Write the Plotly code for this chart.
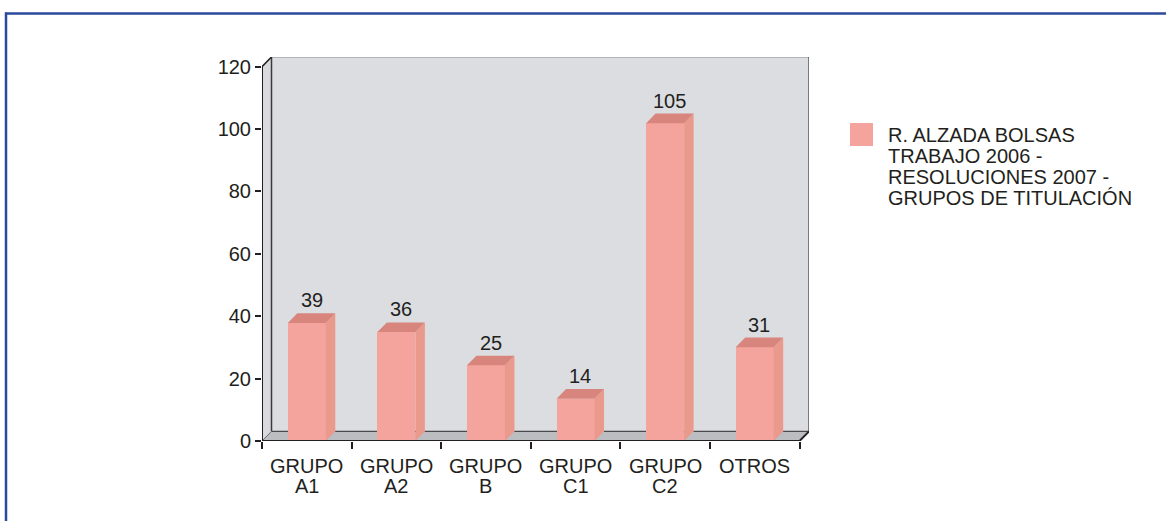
import plotly.graph_objects as go

categories = ["GRUPO A1", "GRUPO A2", "GRUPO B", "GRUPO C1", "GRUPO C2", "OTROS"]
values = [39, 36, 25, 14, 105, 31]
y_ticks = [0, 20, 40, 60, 80, 100, 120]
series_name = ["R. ALZADA BOLSAS", "TRABAJO 2006 -", "RESOLUCIONES 2007 -", "GRUPOS DE TITULACIÓN"]

# pseudo-3d geometry (in axis units)
DX = 0.106      # depth along x
DY = 3.1        # depth along y
FRONT = 0.97    # front face is slightly lower than the value (perspective)
BAR_W = 0.424
YMAX = 120

FONT = "Liberation Sans, Arial, Helvetica, sans-serif"
TXT = "#231f20"
AXIS = "#231f20"

# plot area in pixels (front plane)
L, R, T, B = 262, 809, 57, 441
W, H = 1166, 521


def px(x):
    return (x - L) / (R - L)


def py(y):
    return (B - y) / (B - T)


n = len(categories)
x0, x1 = -0.5, n - 0.5
fig = go.Figure()

fig.add_trace(go.Bar(
    x=list(range(n)), y=[v * FRONT for v in values], width=BAR_W,
    marker=dict(color="#f4a49c", line=dict(width=0)), showlegend=False,
    hoverinfo="skip",
))

shapes = []


def poly(pts, fill, line_color=None, lw=0, layer="below"):
    d = "M " + " L ".join(f"{a},{b}" for a, b in pts) + " Z"
    shapes.append(dict(type="path", path=d, xref="x", yref="y", fillcolor=fill,
                       line=dict(color=line_color or fill, width=lw), layer=layer))


def seg(a, b, c, d, color=AXIS, lw=2, layer="above"):
    shapes.append(dict(type="line", x0=a, y0=b, x1=c, y1=d, xref="x", yref="y",
                       line=dict(color=color, width=lw), layer=layer))


# walls and floor
poly([(x0 + DX, DY), (x1 + DX, DY), (x1 + DX, YMAX + DY), (x0 + DX, YMAX + DY)], "#dcdde0")
poly([(x0, 0), (x0 + DX, DY), (x0 + DX, YMAX + DY), (x0, YMAX)], "#d9dadd")
poly([(x0, 0), (x1, 0), (x1 + DX, DY), (x0 + DX, DY)], "#bcbdc1")
seg(x0 + DX, YMAX + DY, x1 + DX, YMAX + DY, "#8a8a8e", 1, "below")
seg(x0 + DX, DY, x1 + DX, DY, "#4a4a4d", 1.2, "below")
seg(x0 + DX, DY, x0 + DX, YMAX + DY, "#3a3a3c", 1.5, "below")
seg(x1 + DX, DY, x1 + DX, YMAX + DY, "#3a3a3c", 1.2, "below")
seg(x0, 0, x0 + DX, DY, "#6a6a6e", 1, "below")

# bar sides and tops
for i, v in enumerate(values):
    l, r = i - BAR_W / 2, i + BAR_W / 2
    top = v * FRONT
    poly([(r, 0), (r + DX, DY), (r + DX, top + DY), (r, top)], "#ea998d", layer="above")
    poly([(l, top), (r, top), (r + DX, top + DY), (l + DX, top + DY)], "#d7857d", layer="above")

# front axes
seg(x0, 0, x0, YMAX)
seg(x0, YMAX, x0 + DX, YMAX + DY, lw=1.5)
seg(x0, 0, x1, 0)
seg(x1, 0, x1 + DX, DY)

annotations = []
for i, v in enumerate(values):
    annotations.append(dict(x=i + DX / 2, y=v * FRONT + DY, xref="x", yref="y", text=str(v),
                            showarrow=False, yanchor="bottom", yshift=0,
                            font=dict(size=20, color=TXT, family=FONT)))
    parts = categories[i].split(" ", 1)
    for k, part in enumerate(parts):
        annotations.append(dict(x=i, y=py(466 + 19.5 * k), xref="x", yref="paper", text=part,
                                showarrow=False, yanchor="middle",
                                font=dict(size=20, color=TXT, family=FONT)))

# legend
shapes.append(dict(type="rect", xref="paper", yref="paper", x0=px(850), x1=px(873),
                   y0=py(146), y1=py(123), fillcolor="#f4a49c", line=dict(width=0)))
for k, line in enumerate(series_name):
    annotations.append(dict(x=px(886), y=py(135 + 21 * k), xref="paper", yref="paper", text=line,
                            showarrow=False, xanchor="left", yanchor="middle",
                            font=dict(size=20, color=TXT, family=FONT)))

# page border (top and left only)
shapes.append(dict(type="line", xref="paper", yref="paper", x0=px(5), x1=px(W + 5),
                   y0=py(13.5), y1=py(13.5), line=dict(color="#2b4a9b", width=2.5)))
shapes.append(dict(type="line", xref="paper", yref="paper", x0=px(6), x1=px(6),
                   y0=py(12.5), y1=py(W), line=dict(color="#2b4a9b", width=2.5)))

fig.update_layout(
    width=W, height=H,
    margin=dict(l=L, r=W - R, t=T, b=H - B, autoexpand=False),
    paper_bgcolor="white", plot_bgcolor="rgba(0,0,0,0)",
    bargap=0, showlegend=False,
    shapes=shapes, annotations=annotations,
    xaxis=dict(range=[x0, x1 + DX], tickvals=[x0 + k for k in range(n + 1)],
               showticklabels=False, ticks="outside", ticklen=7, tickwidth=2,
               tickcolor=AXIS, showgrid=False, zeroline=False, showline=False, fixedrange=True),
    yaxis=dict(range=[0, YMAX + DY], tickvals=y_ticks, ticks="outside", ticklen=6, tickwidth=2,
               tickcolor=AXIS, showgrid=False, zeroline=False, showline=False,
               tickfont=dict(size=20, color=TXT, family=FONT), fixedrange=True),
)

fig.write_html("out.html", config={"displayModeBar": False},
               post_script="document.body.style.margin='0';")
